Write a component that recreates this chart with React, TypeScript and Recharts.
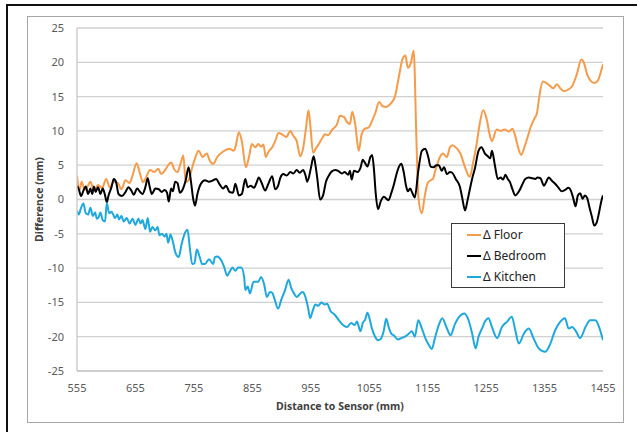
import { LineChart, Line, XAxis, YAxis, CartesianGrid } from "recharts";

// [distance (mm), difference (mm)]
const floorPoints: [number, number][] = [
  [555, 3.5], [559, 1.3], [563, 2.6], [568, 1.4], [573, 1.9], [578, 2.6], [584, 1.3], [591, 2.1],
  [598, 1.7], [605, 3.0], [611, 1.8], [618, 2.6], [625, 2.4], [631, 1.5], [638, 2.8], [645, 2.4],
  [650, 3.5], [657, 5.3], [663, 3.7], [668, 2.5], [672, 3.0], [680, 4.3], [687, 4.0], [694, 4.5],
  [699, 3.7], [705, 4.2], [711, 5.0], [716, 5.4], [722, 4.3], [727, 4.0], [732, 5.2], [737, 6.4],
  [741, 2.5], [746, 2.8], [751, 4.3], [757, 6.0], [763, 7.1], [770, 6.2], [777, 6.7], [782, 5.7],
  [788, 5.2], [795, 6.2], [805, 7.0], [816, 7.4], [823, 7.1], [826, 7.6], [832, 9.8], [837, 8.5],
  [844, 4.7], [850, 6.5], [854, 8.1], [860, 7.6], [865, 8.1], [870, 7.7], [874, 8.0], [878, 6.2],
  [883, 7.0], [889, 7.6], [894, 8.5], [900, 9.7], [906, 9.5], [913, 9.1], [920, 10.0], [925, 9.3],
  [931, 8.5], [937, 6.3], [942, 7.5], [947, 10.5], [951, 13.0], [954, 11.0], [959, 6.8], [964, 7.5],
  [968, 8.0], [975, 9.0], [979, 9.5], [985, 9.4], [991, 10.1], [1000, 11.0], [1005, 12.2], [1012, 12.0],
  [1017, 11.3], [1022, 11.0], [1026, 12.8], [1031, 11.0], [1037, 7.1], [1042, 9.5], [1047, 10.3],
  [1054, 10.5], [1060, 11.5], [1065, 12.5], [1072, 14.2], [1078, 13.6], [1084, 13.5], [1092, 14.0],
  [1099, 15.0], [1106, 18.0], [1112, 20.5], [1117, 21.0], [1121, 19.2], [1126, 19.8], [1131, 21.7],
  [1136, 8.0], [1139, 0.5], [1145, -2.0], [1150, 0.5], [1155, 2.4], [1160, 2.8], [1164, 3.0],
  [1168, 4.2], [1176, 6.2], [1181, 6.7], [1188, 6.2], [1193, 7.6], [1197, 7.9], [1202, 7.7],
  [1211, 6.7], [1219, 4.7], [1227, 3.3], [1233, 5.5], [1239, 8.2], [1244, 11.0], [1250, 13.0],
  [1256, 11.7], [1261, 9.5], [1265, 8.5], [1273, 10.2], [1280, 10.0], [1287, 10.2], [1294, 9.9],
  [1300, 10.3], [1305, 9.2], [1310, 7.5], [1315, 6.5], [1320, 7.5], [1325, 8.8], [1331, 10.5],
  [1337, 11.7], [1342, 12.6], [1346, 15.0], [1352, 17.2], [1358, 17.0], [1364, 16.6], [1370, 16.2],
  [1376, 16.8], [1382, 16.2], [1388, 15.8], [1395, 16.0], [1402, 16.5], [1410, 18.2], [1418, 20.4],
  [1422, 20.0], [1428, 18.2], [1434, 17.3], [1440, 17.0], [1446, 17.3], [1451, 18.5], [1455, 19.7],
];

const bedroomPoints: [number, number][] = [
  [555, 2.0], [558, 1.5], [562, 0.5], [566, 1.3], [570, 1.9], [574, 0.8], [578, 1.6], [581, 0.8],
  [584, 1.9], [587, 1.1], [591, 1.8], [595, 0.8], [599, 1.6], [603, 0.6], [606, -0.4], [609, 0.6],
  [614, 1.8], [618, 3.0], [622, 2.5], [626, 0.8], [632, 0.5], [638, 1.1], [643, 1.8], [648, 1.3],
  [652, 0.7], [658, 1.6], [663, 1.1], [667, 0.8], [672, 1.8], [676, 3.1], [679, 2.0], [683, 0.8],
  [689, 1.6], [695, 1.5], [700, 1.1], [705, 1.4], [709, 1.0], [712, -0.3], [716, 1.6], [719, 1.2],
  [723, 2.6], [727, 2.4], [731, 1.0], [736, 1.5], [741, 2.8], [746, 4.7], [750, 2.6], [754, 0.0],
  [757, -0.9], [761, 0.8], [767, 2.3], [774, 2.8], [780, 2.6], [788, 2.8], [793, 3.0], [799, 2.2],
  [805, 1.6], [810, 2.0], [816, 1.1], [822, 1.0], [826, 2.3], [832, 0.6], [837, 0.8], [843, 3.0],
  [847, 1.8], [852, 2.0], [858, 1.7], [862, 2.4], [866, 3.2], [871, 2.4], [877, 1.3], [882, 2.2],
  [889, 3.4], [894, 1.5], [899, 2.0], [903, 3.2], [908, 3.7], [914, 3.5], [920, 4.0], [925, 3.8],
  [931, 4.3], [936, 3.9], [942, 4.3], [946, 3.5], [949, 2.6], [955, 4.5], [960, 6.3], [963, 5.0],
  [966, 3.2], [971, 0.0], [976, 0.6], [981, 2.6], [986, 3.5], [991, 4.1], [997, 4.3], [1003, 4.1],
  [1008, 3.8], [1013, 4.0], [1019, 3.6], [1022, 4.2], [1025, 2.9], [1029, 4.2], [1035, 4.0],
  [1040, 4.6], [1044, 5.8], [1048, 5.3], [1052, 4.8], [1057, 6.2], [1060, 6.5], [1063, 4.5],
  [1066, 1.0], [1070, -1.4], [1075, -0.2], [1080, 0.4], [1088, -0.1], [1093, 1.0], [1097, 2.1],
  [1102, 3.8], [1106, 4.8], [1110, 5.2], [1114, 4.0], [1118, 2.0], [1121, 1.2], [1125, 1.6],
  [1129, 0.9], [1133, 0.3], [1139, 4.2], [1145, 7.1], [1151, 7.4], [1156, 6.2], [1160, 4.8],
  [1165, 4.7], [1170, 5.0], [1174, 5.0], [1179, 4.2], [1183, 4.7], [1188, 3.7], [1193, 4.0],
  [1197, 3.9], [1203, 3.0], [1210, 1.9], [1214, 0.3], [1219, -1.6], [1223, -0.2], [1231, 3.0],
  [1236, 4.6], [1242, 7.1], [1247, 7.6], [1253, 6.7], [1258, 6.3], [1262, 6.0], [1265, 7.1],
  [1270, 5.0], [1275, 3.0], [1280, 3.2], [1284, 2.9], [1288, 3.6], [1292, 3.0], [1296, 2.5],
  [1300, 1.5], [1305, 0.6], [1312, 1.3], [1317, 2.2], [1322, 3.0], [1328, 3.2], [1334, 3.1],
  [1339, 3.0], [1343, 3.2], [1348, 3.1], [1354, 2.0], [1358, 2.6], [1362, 3.2], [1368, 2.7],
  [1373, 2.3], [1379, 1.7], [1384, 1.2], [1390, 1.4], [1396, 1.7], [1400, 1.3], [1404, 0.2],
  [1408, -1.0], [1412, 0.6], [1416, 0.9], [1420, 0.1], [1424, 0.6], [1428, 0.2], [1432, -1.2],
  [1436, -2.5], [1440, -3.8], [1444, -3.4], [1448, -2.0], [1452, -0.3], [1455, 0.6],
];

const kitchenPoints: [number, number][] = [
  [555, -1.6], [558, -2.2], [562, -1.2], [566, -0.6], [570, -2.0], [574, -2.2], [578, -1.2],
  [582, -2.4], [586, -1.9], [589, -2.8], [592, -2.6], [595, -1.9], [599, -3.0], [603, -3.2],
  [606, -0.5], [610, -2.0], [614, -1.8], [617, -2.2], [620, -2.7], [624, -2.2], [627, -2.9],
  [631, -2.4], [635, -3.2], [640, -2.7], [645, -3.5], [650, -2.8], [655, -3.7], [660, -2.8],
  [664, -3.5], [667, -3.0], [672, -4.3], [676, -2.7], [680, -4.7], [684, -4.0], [689, -4.5],
  [693, -4.0], [696, -5.2], [700, -5.0], [705, -5.4], [708, -5.0], [711, -6.3], [715, -5.1],
  [718, -5.8], [724, -7.9], [729, -8.4], [734, -6.5], [739, -5.0], [744, -4.4], [748, -7.0],
  [752, -9.4], [756, -9.3], [760, -7.3], [765, -8.4], [769, -9.4], [774, -9.4], [781, -8.7],
  [788, -9.4], [791, -8.4], [795, -8.3], [802, -8.9], [807, -9.9], [812, -11.1], [817, -10.4],
  [821, -9.9], [826, -10.4], [831, -9.9], [836, -9.9], [841, -11.3], [843, -13.2], [847, -12.7],
  [851, -13.7], [857, -12.0], [865, -12.0], [870, -11.3], [875, -12.3], [880, -14.2], [885, -13.5],
  [889, -13.6], [893, -14.5], [899, -15.9], [905, -14.5], [911, -13.2], [917, -11.7], [922, -13.0],
  [927, -13.8], [931, -14.2], [937, -13.7], [941, -13.5], [945, -14.0], [950, -15.6], [954, -17.3],
  [958, -16.3], [963, -15.3], [968, -15.5], [973, -15.0], [979, -15.3], [983, -15.2], [989, -16.3],
  [996, -16.8], [1003, -17.6], [1010, -18.3], [1017, -18.6], [1024, -18.0], [1030, -18.3],
  [1034, -17.8], [1040, -19.2], [1044, -18.0], [1048, -17.5], [1052, -16.5], [1055, -17.2],
  [1060, -18.9], [1065, -20.0], [1070, -20.5], [1074, -20.4], [1080, -19.1], [1084, -17.4],
  [1089, -18.8], [1093, -19.6], [1097, -19.8], [1104, -20.4], [1110, -20.2], [1116, -20.0],
  [1122, -19.6], [1128, -19.2], [1133, -20.0], [1139, -17.6], [1145, -18.8], [1151, -20.2],
  [1157, -21.2], [1162, -21.8], [1168, -20.0], [1174, -18.3], [1180, -17.3], [1188, -18.8],
  [1194, -19.8], [1202, -18.1], [1211, -16.9], [1218, -16.6], [1225, -17.6], [1231, -19.5],
  [1237, -21.7], [1242, -20.0], [1248, -18.8], [1253, -17.8], [1259, -17.3], [1265, -18.6],
  [1274, -20.2], [1282, -18.6], [1291, -17.8], [1299, -17.1], [1305, -19.1], [1311, -21.0],
  [1320, -19.5], [1328, -18.8], [1336, -20.2], [1345, -21.7], [1356, -22.2], [1364, -21.2],
  [1373, -19.1], [1382, -17.8], [1390, -17.3], [1396, -18.8], [1402, -18.6], [1408, -19.1],
  [1416, -20.2], [1425, -18.6], [1433, -17.6], [1442, -17.6], [1447, -18.3], [1455, -20.5],
];

const xTicks = [555, 655, 755, 855, 955, 1055, 1155, 1255, 1355, 1455];
const yTicks = [-25, -20, -15, -10, -5, 0, 5, 10, 15, 20, 25];

const series = [
  { name: "Δ Floor", color: "#F59B4A", points: floorPoints },
  { name: "Δ Bedroom", color: "#000000", points: bedroomPoints },
  { name: "Δ Kitchen", color: "#1EA8DD", points: kitchenPoints },
];

const toRows = (pts: [number, number][]) => pts.map(([x, y]) => ({ x, y }));

const FONT = "'Noto Sans', sans-serif";

// legend box drawn on top of the plot, like the Excel original
function LegendBox() {
  return (
    <div
      style={{
        position: "absolute",
        left: 451,
        top: 223,
        width: 112,
        height: 63,
        border: "1px solid #3a3a3a",
        background: "#fff",
        fontFamily: FONT,
        fontSize: 12,
        color: "#222",
      }}
    >
      {series.map((s) => (
        <div key={s.name} style={{ height: 21, display: "flex", alignItems: "center" }}>
          <span style={{ display: "inline-block", width: 14, height: 2, background: s.color, marginLeft: 15 }} />
          <span style={{ marginLeft: 2, lineHeight: "21px" }}>{s.name}</span>
        </div>
      ))}
    </div>
  );
}

export default function App() {
  return (
    <div style={{ position: "absolute", left: 0, top: 0, width: 637, height: 432, overflow: "hidden", background: "#fff" }}>
      <div
        style={{
          position: "absolute",
          left: 6,
          top: 4,
          width: 700,
          height: 500,
          border: "2.5px solid #111",
        }}
      />
      <div
        style={{
          position: "absolute",
          left: 27,
          top: 16,
          width: 595,
          height: 405,
          border: "1px solid #A6A6A6",
          background: "#fff",
        }}
      >
        <LineChart
          width={595}
          height={405}
          margin={{ top: 11, right: 20, bottom: 1, left: 0 }}
          style={{ fontFamily: FONT }}
        >
          <CartesianGrid vertical={false} stroke="#D0D0D0" strokeWidth={1.3} />
          <XAxis
            type="number"
            dataKey="x"
            domain={[555, 1455]}
            ticks={xTicks}
            allowDataOverflow
            height={50}
            tickLine={false}
            tickSize={0}
            tickMargin={13}
            axisLine={{ stroke: "#C8C8C8", strokeWidth: 1.3 }}
            tick={{ fill: "#595959", fontSize: 11 }}
            label={{
              value: "Distance to Sensor (mm)",
              position: "insideBottom",
              offset: 11,
              style: { fill: "#404040", fontSize: 10.5, fontWeight: 700 },
            }}
          />
          <YAxis
            type="number"
            domain={[-25, 25]}
            ticks={yTicks}
            width={49}
            tickLine={false}
            tickSize={0}
            tickMargin={13}
            axisLine={{ stroke: "#C8C8C8", strokeWidth: 1.3 }}
            tick={{ fill: "#595959", fontSize: 11 }}
            label={{
              value: "Difference (mm)",
              angle: -90,
              position: "insideLeft",
              offset: 11,
              style: { textAnchor: "middle", fill: "#404040", fontSize: 10.5, fontWeight: 700 },
            }}
          />
          {series.map((s) => (
            <Line
              key={s.name}
              data={toRows(s.points)}
              dataKey="y"
              name={s.name}
              type="monotone"
              stroke={s.color}
              strokeWidth={2}
              dot={false}
              activeDot={false}
              isAnimationActive={false}
            />
          ))}
        </LineChart>
      </div>
      <LegendBox />
    </div>
  );
}
